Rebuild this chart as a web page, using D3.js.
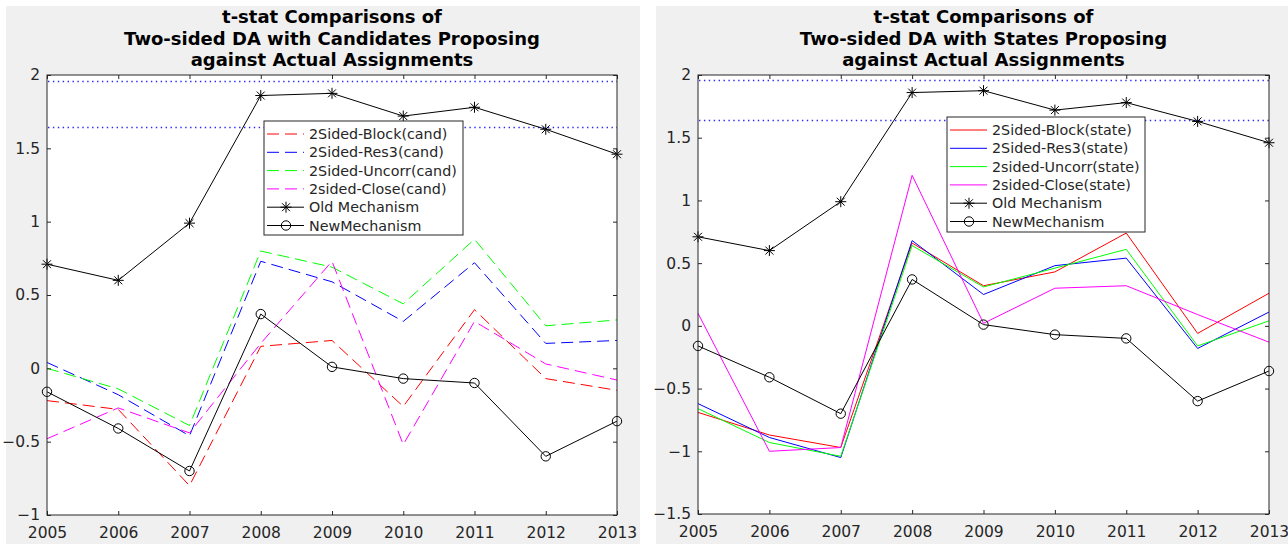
<!DOCTYPE html>
<html>
<head>
<meta charset="utf-8">
<script src="https://cdn.jsdelivr.net/npm/d3@7"></script>
<style>
  html, body { margin: 0; padding: 0; background: #ffffff; }
  svg { display: block; }
  text { font-family: "DejaVu Sans", sans-serif; fill: #262626; }
</style>
</head>
<body>
<svg id="chart" width="1288" height="544"></svg>
<script>
// ---------------- data ----------------
const years = [2005, 2006, 2007, 2008, 2009, 2010, 2011, 2012, 2013];

const oldMechanism = [0.71, 0.60, 0.99, 1.86, 1.875, 1.72, 1.78, 1.63, 1.46];
const newMechanism = [-0.16, -0.41, -0.70, 0.37, 0.01, -0.07, -0.10, -0.60, -0.36];

const blockCand  = [-0.22, -0.28, -0.80, 0.15, 0.19, -0.26, 0.40, -0.07, -0.15];
const res3Cand   = [0.04, -0.18, -0.46, 0.73, 0.59, 0.32, 0.72, 0.17, 0.19];
const uncorrCand = [0.00, -0.14, -0.39, 0.80, 0.69, 0.44, 0.88, 0.29, 0.33];
const closeCand  = [-0.48, -0.27, -0.44, 0.17, 0.73, -0.52, 0.32, 0.03, -0.08];

const blockState  = [-0.69, -0.87, -0.97, 0.66, 0.32, 0.43, 0.74, -0.06, 0.26];
const res3State   = [-0.62, -0.89, -1.05, 0.68, 0.25, 0.48, 0.54, -0.18, 0.11];
const uncorrState = [-0.66, -0.93, -1.04, 0.64, 0.31, 0.46, 0.61, -0.16, 0.04];
const closeState  = [0.10, -1.00, -0.97, 1.20, 0.02, 0.30, 0.32, 0.09, -0.13];

const criticalValues = [1.96, 1.645];

const leftTitle  = ["t-stat Comparisons of", "Two-sided DA with Candidates Proposing", "against Actual Assignments"];
const rightTitle = ["t-stat Comparisons of", "Two-sided DA with States Proposing", "against Actual Assignments"];

const leftNames  = ["2Sided-Block(cand)", "2Sided-Res3(cand)", "2Sided-Uncorr(cand)", "2sided-Close(cand)", "Old Mechanism", "NewMechanism"];
const rightNames = ["2Sided-Block(state)", "2Sided-Res3(state)", "2sided-Uncorr(state)", "2sided-Close(state)", "Old Mechanism", "NewMechanism"];

const leftYTicks  = [-1, -0.5, 0, 0.5, 1, 1.5, 2];
const rightYTicks = [-1.5, -1, -0.5, 0, 0.5, 1, 1.5, 2];

// ---------------- drawing ----------------
const svg = d3.select("#chart");
const AX = "#262626";

function starPath(r) {
  const d = r * 0.72;
  return `M${-r},0L${r},0M0,${-r}L0,${r}M${-d},${-d}L${d},${d}M${-d},${d}L${d},${-d}`;
}

function drawPanel(cfg) {
  const g = svg.append("g");
  g.append("rect").attr("x", cfg.bg[0]).attr("y", cfg.bg[1])
    .attr("width", cfg.bg[2]).attr("height", cfg.bg[3]).attr("fill", "#f0f0f0");

  const x = d3.scaleLinear().domain([years[0], years[years.length - 1]]).range([cfg.left, cfg.right]);
  const y = d3.scaleLinear().domain(cfg.yDomain).range([cfg.bottom, cfg.top]);

  g.append("rect").attr("x", cfg.left).attr("y", cfg.top)
    .attr("width", cfg.right - cfg.left).attr("height", cfg.bottom - cfg.top).attr("fill", "#ffffff");

  const plot = g.append("g");
  const line = d3.line().x((d, i) => x(years[i])).y(d => y(d));

  // critical value dotted lines (1.96 and 1.645)
  criticalValues.forEach(cv => {
    const yy = Math.round(y(cv)) + 0.5;
    plot.append("path")
      .attr("d", `M${Math.round(cfg.left) + 1},${yy}H${cfg.right}`)
      .attr("fill", "none")
      .attr("stroke", "rgb(40,40,255)")
      .attr("stroke-width", 1.4)
      .attr("stroke-dasharray", "1.4,3.5");
  });

  cfg.series.forEach(s => {
    plot.append("path").datum(s.values)
      .attr("d", line).attr("fill", "none")
      .style("stroke", s.color).attr("stroke-width", 1)
      .attr("stroke-dasharray", s.dash || null);
  });

  plot.append("path").datum(oldMechanism).attr("d", line)
    .attr("fill", "none").style("stroke", "#000").attr("stroke-width", 1);
  plot.append("path").datum(newMechanism).attr("d", line)
    .attr("fill", "none").style("stroke", "#000").attr("stroke-width", 1);

  plot.selectAll("path.star").data(oldMechanism).enter().append("path").attr("class", "star")
    .attr("transform", (d, i) => `translate(${x(years[i])},${y(d)})`)
    .attr("d", starPath(5.5)).style("stroke", "#000").attr("stroke-width", 1).attr("fill", "none");
  plot.selectAll("circle.circ").data(newMechanism).enter().append("circle").attr("class", "circ")
    .attr("cx", (d, i) => x(years[i])).attr("cy", d => y(d)).attr("r", 4.7)
    .style("stroke", "#000").attr("stroke-width", 1).attr("fill", "none");

  const tickLen = 4;
  const axB = d3.axisBottom(x).tickValues(years).tickFormat(d3.format("d")).tickSizeInner(-tickLen).tickSizeOuter(0).tickPadding(12);
  const axT = d3.axisTop(x).tickValues(years).tickFormat("").tickSizeInner(-tickLen).tickSizeOuter(0);
  const fmtY = d => (d === 0 ? "0" : d3.format("")(d));
  const axL = d3.axisLeft(y).tickValues(cfg.yTicks).tickFormat(fmtY).tickSizeInner(-tickLen).tickSizeOuter(0).tickPadding(7);
  const axR = d3.axisRight(y).tickValues(cfg.yTicks).tickFormat("").tickSizeInner(-tickLen).tickSizeOuter(0);

  const gB = g.append("g").attr("transform", `translate(0,${cfg.bottom})`).call(axB);
  const gT = g.append("g").attr("transform", `translate(0,${cfg.top})`).call(axT);
  const gL = g.append("g").attr("transform", `translate(${cfg.left},0)`).call(axL);
  const gR = g.append("g").attr("transform", `translate(${cfg.right},0)`).call(axR);
  [gB, gT, gL, gR].forEach(a => {
    a.select(".domain").remove();
    a.selectAll(".tick line").attr("stroke", AX);
    a.selectAll("text").attr("fill", AX).style("font-size", "15.5px")
      .style("font-family", "'DejaVu Sans', sans-serif");
  });
  gB.selectAll("text").attr("dy", "0.71em");

  g.append("rect").attr("x", cfg.left).attr("y", cfg.top)
    .attr("width", cfg.right - cfg.left).attr("height", cfg.bottom - cfg.top)
    .attr("fill", "none").attr("stroke", AX).attr("stroke-width", 1);

  const cx = (cfg.left + cfg.right) / 2;
  const titleBase = [23, 44.5, 65.5];
  cfg.title.forEach((t, i) => {
    g.append("text").attr("x", cx).attr("y", titleBase[i])
      .attr("text-anchor", "middle").style("font-size", "18px").style("font-weight", "bold")
      .style("fill", "#000").text(t);
  });

  const L = cfg.legend;
  const lg = g.append("g");
  lg.append("rect").attr("x", L.x).attr("y", L.y).attr("width", L.w).attr("height", L.h)
    .attr("fill", "#fff").attr("stroke", AX).attr("stroke-width", 1);
  const entries = cfg.series.map(s => ({ color: s.color, dash: s.dash, marker: null }))
    .concat([{ color: "#000", dash: null, marker: "star" }, { color: "#000", dash: null, marker: "circle" }]);
  entries.forEach((e, i) => {
    const yy = L.y + 13 + i * 18.3;
    lg.append("line").attr("x1", L.x + 3).attr("x2", L.x + 40).attr("y1", yy).attr("y2", yy)
      .style("stroke", e.color).attr("stroke-width", 1).attr("stroke-dasharray", e.dash || null);
    if (e.marker === "star") {
      lg.append("path").attr("transform", `translate(${L.x + 22},${yy})`).attr("d", starPath(5.5))
        .style("stroke", "#000").attr("fill", "none");
    } else if (e.marker === "circle") {
      lg.append("circle").attr("cx", L.x + 22).attr("cy", yy).attr("r", 4.7)
        .style("stroke", "#000").attr("fill", "none");
    }
    lg.append("text").attr("x", L.x + 45).attr("y", yy).attr("dy", "0.36em")
      .style("font-size", "14.3px").attr("fill", AX).text(cfg.names[i]);
  });
}

drawPanel({
  id: "L",
  bg: [6, 6, 634, 538],
  left: 47, right: 617, top: 75, bottom: 515,
  yDomain: [-1, 2], yTicks: leftYTicks,
  title: leftTitle, names: leftNames,
  legend: { x: 264, y: 121, w: 199, h: 114 },
  series: [
    { values: blockCand,  color: "#ff0000", dash: "12,6" },
    { values: res3Cand,   color: "#0000ff", dash: "12,6" },
    { values: uncorrCand, color: "#00ff00", dash: "12,6" },
    { values: closeCand,  color: "#ff00ff", dash: "12,6" }
  ]
});

drawPanel({
  id: "R",
  bg: [656, 6, 632, 538],
  left: 698, right: 1269, top: 75, bottom: 514,
  yDomain: [-1.5, 2], yTicks: rightYTicks,
  title: rightTitle, names: rightNames,
  legend: { x: 947, y: 117, w: 198, h: 115 },
  series: [
    { values: blockState,  color: "#ff0000" },
    { values: res3State,   color: "#0000ff" },
    { values: uncorrState, color: "#00ff00" },
    { values: closeState,  color: "#ff00ff" }
  ]
});
</script>
</body>
</html>
